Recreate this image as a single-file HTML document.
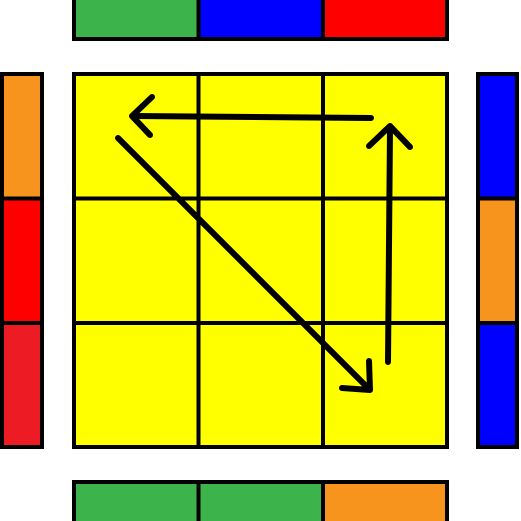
<!DOCTYPE html>
<html><head><meta charset="utf-8"><style>html,body{margin:0;padding:0;background:#fff;width:521px;height:521px;overflow:hidden}</style></head>
<body>
<svg width="521" height="521" viewBox="0 0 521 521">
<g stroke="#000" stroke-width="4">
<rect x="74" y="-4" width="124.5" height="43" fill="#3cb44b"/>
<rect x="198.5" y="-4" width="124.5" height="43" fill="#0000ff"/>
<rect x="323" y="-4" width="124" height="43" fill="#ff0000"/>
<rect x="74" y="482" width="124.5" height="43" fill="#3cb44b"/>
<rect x="198.5" y="482" width="124.5" height="43" fill="#3cb44b"/>
<rect x="323" y="482" width="124" height="43" fill="#f7941d"/>
<rect x="2" y="74" width="40" height="124.5" fill="#f7941d"/>
<rect x="2" y="198.5" width="40" height="124.5" fill="#ff0000"/>
<rect x="2" y="323" width="40" height="124" fill="#ed1c24"/>
<rect x="478" y="74" width="39" height="124.5" fill="#0000ff"/>
<rect x="478" y="198.5" width="39" height="124.5" fill="#f7941d"/>
<rect x="478" y="323" width="39" height="124" fill="#0000ff"/>
<rect x="74" y="74" width="373" height="373" fill="#ffff00"/>
<line x1="198.5" y1="74" x2="198.5" y2="447"/><line x1="323" y1="74" x2="323" y2="447"/>
<line x1="74" y1="198.5" x2="447" y2="198.5"/><line x1="74" y1="323" x2="447" y2="323"/>
</g>
<g stroke="#000" stroke-width="6" fill="none" stroke-linecap="round" stroke-linejoin="round">
<g><line x1="371" y1="118" x2="133" y2="116"/><polyline points="152,97 132,116 150,135"/></g>
<g><line x1="388" y1="362" x2="390" y2="128"/><polyline points="369,146 390,126 410,147"/></g>
<g><line x1="118" y1="138" x2="369" y2="389"/><polyline points="342,388 370,390 369,361"/></g>
</g>
</svg>
</body></html>
